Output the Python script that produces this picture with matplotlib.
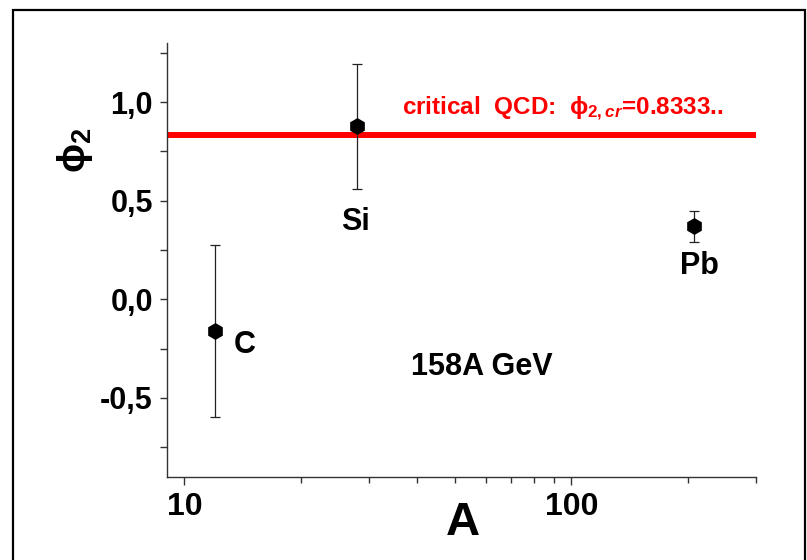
import numpy as np
import matplotlib.pyplot as plt
from matplotlib.patches import Rectangle
from matplotlib.ticker import FixedLocator, NullFormatter, FixedFormatter

plt.rcParams['font.family'] = ['Liberation Sans', 'DejaVu Sans']
plt.rcParams['font.weight'] = 'bold'
plt.rcParams['mathtext.fontset'] = 'custom'
plt.rcParams['mathtext.rm'] = 'Liberation Sans:bold'
plt.rcParams['mathtext.it'] = 'Liberation Sans:italic:bold'
plt.rcParams['mathtext.bf'] = 'Liberation Sans:bold'

# data
nuclei = ["C", "Si", "Pb"]
mass_a = [12, 28, 208]
phi2 = [-0.16, 0.877, 0.372]
err_up = [0.434, 0.317, 0.078]
err_down = [0.438, 0.319, 0.082]
phi2_cr = 0.8333
xticks = [10, 100]
xtick_labels = ["10", "100"]
yticks = [-0.5, 0.0, 0.5, 1.0]
ytick_labels = ["-0,5", "0,0", "0,5", "1,0"]

fig = plt.figure(figsize=(8.07, 5.6), dpi=100)
ax = fig.add_axes([0.2066, 0.1488, 0.7302, 0.7744])

ax.set_xscale('log')
ax.set_xlim(9, 300)
ax.set_ylim(-0.9, 1.3)

ax.axhline(phi2_cr, color='#ff0000', lw=4.3, zorder=2)
ax.errorbar(mass_a, phi2, yerr=[err_down, err_up], fmt='h', color='black',
            ms=11, ecolor='#222222', elinewidth=0.9, capsize=3.6, capthick=0.9,
            zorder=3)

# labels next to the points
label_pos = [(13.4, -0.231, 'left'), (27.6, 0.392, 'center'), (214.8, 0.170, 'center')]
for name, (x, y, ha) in zip(nuclei, label_pos):
    ax.text(x, y, name, fontsize=22, ha=ha, va='center')

ax.text(58.8, -0.342, "158A GeV", fontsize=22, ha='center', va='center')
ax.text(36.6, 0.965, r"critical  QCD:  $\mathrm{\phi}_{2,cr}$=0.8333..", color='#ff0000',
        fontsize=17.5, ha='left', va='center')

for side in ['top', 'right']:
    ax.spines[side].set_visible(False)
for side in ['left', 'bottom']:
    ax.spines[side].set_color('#333333')
    ax.spines[side].set_linewidth(1.0)

ax.xaxis.set_major_locator(FixedLocator(xticks))
ax.xaxis.set_major_formatter(FixedFormatter(xtick_labels))
ax.xaxis.set_minor_locator(FixedLocator([20, 30, 40, 50, 60, 70, 80, 90, 200, 300]))
ax.xaxis.set_minor_formatter(NullFormatter())
ax.yaxis.set_major_locator(FixedLocator(yticks))
ax.yaxis.set_major_formatter(FixedFormatter(ytick_labels))
ax.yaxis.set_minor_locator(FixedLocator([-0.75, -0.25, 0.25, 0.75, 1.25]))

ax.tick_params(axis='x', which='major', direction='out', length=6, width=1,
               labelsize=23, pad=5, color='#333333')
ax.tick_params(axis='x', which='minor', direction='out', length=4, width=1,
               color='#333333')
ax.tick_params(axis='y', which='both', direction='out', length=5, width=1,
               labelsize=22, pad=5, color='#333333')

fig.text(463 / 807, 1 - 523 / 560, "A", fontsize=34, ha='center', va='center')
fig.text(75 / 807, 1 - 150 / 560, r"$\mathrm{\phi}_2$", fontsize=28, rotation=90,
         ha='center', va='center')

# frame round the whole picture
fig.patches.append(Rectangle((13 / 807, -0.05), (805 - 13) / 807, 1 - 10 / 560 + 0.05,
                             transform=fig.transFigure, fill=False,
                             edgecolor='black', lw=1.6))

fig.savefig('out.png', dpi=100)
